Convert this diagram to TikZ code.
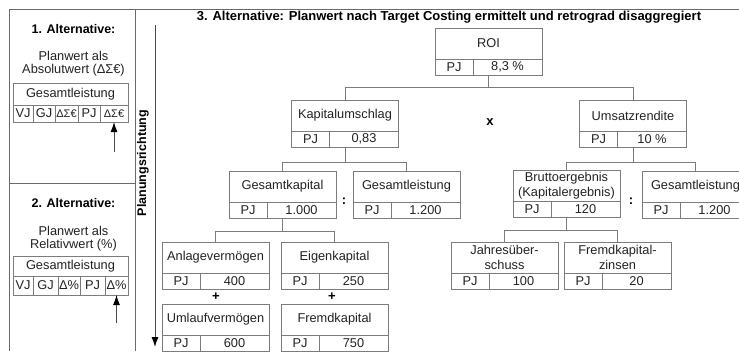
\documentclass[tikz,border=0pt]{standalone}
\usepackage{fontspec}
\setmainfont{Liberation Sans}
\usetikzlibrary{positioning,arrows.meta}
\definecolor{boxgray}{HTML}{7C7C7C}
\definecolor{framegray}{HTML}{6A6A6A}
\definecolor{inkgray}{HTML}{222222}

\begin{document}
\begin{tikzpicture}[x=1pt,y=-1pt,font=\fontsize{12.8}{15.5}\selectfont,text=inkgray]
    \tikzstyle{head}=[draw=boxgray,line width=1pt,rectangle,minimum width=107pt,minimum height=31pt,inner sep=1pt,outer sep=0pt,align=center]
    \tikzstyle{pjcell}=[draw=boxgray,line width=1pt,rectangle,minimum width=38pt,minimum height=16pt,inner sep=0pt,outer sep=0pt]
    \tikzstyle{valcell}=[pjcell,minimum width=69pt]
    \tikzstyle{conn}=[draw=boxgray,line width=1pt]
    \tikzstyle{op}=[font=\fontsize{13}{15}\selectfont\bfseries,text=black]
    \tikzstyle{alttitle}=[font=\fontsize{12.5}{15}\selectfont\bfseries,text=black]
    \tikzstyle{lhead}=[draw=boxgray,line width=1pt,rectangle,minimum width=115pt,inner sep=0pt,outer sep=0pt]
    \tikzstyle{lcell}=[draw=boxgray,line width=1pt,rectangle,inner sep=0pt,outer sep=0pt]
    \tikzstyle{dcell}=[lcell,font=\fontsize{11}{12}\selectfont]
    \tikzstyle{pointer}=[draw=framegray!70!black,line width=1pt,-{Latex[length=10pt,width=7pt,color=black]}]

    \useasboundingbox (0,0) rectangle (739,351);
    \clip (0,0) rectangle (739,351);

    % frame
    \draw[framegray,line width=1pt] (739,9) -- (9,9) -- (9,351);
    \draw[framegray,line width=1pt] (135,9) -- (135,351);
    \draw[framegray,line width=1pt] (9,183) -- (135,183);

    % 1. Alternative
    \node[alttitle] at (73.5,29) (a1title) {1. Alternative:};
    \node[align=center,font=\fontsize{12.8}{13.5}\selectfont] at (73.5,63.5) (a1text) {Planwert als\\Absolutwert (ΔΣ€)};
    \node[lhead,minimum height=22pt,anchor=north west] at (13,83) (a1head) {Gesamtleistung};
    \node[lcell,minimum width=20pt,minimum height=17pt,anchor=north west] at (a1head.south west) (a1vj) {VJ};
    \node[lcell,minimum width=22pt,minimum height=17pt,right=0pt of a1vj] (a1gj) {GJ};
    \node[dcell,minimum width=23pt,minimum height=17pt,right=0pt of a1gj] (a1d1) {ΔΣ€};
    \node[lcell,minimum width=22pt,minimum height=17pt,right=0pt of a1d1] (a1pj) {PJ};
    \node[dcell,minimum width=28pt,minimum height=17pt,right=0pt of a1pj] (a1d2) {ΔΣ€};
    \coordinate (a1tail) at (114,152);
    \draw[pointer] (a1tail) -- (a1d2);

    % 2. Alternative
    \node[alttitle] at (73.5,203) (a2title) {2. Alternative:};
    \node[align=center,font=\fontsize{12.8}{13.5}\selectfont] at (73.5,238.5) (a2text) {Planwert als\\Relativwert (\%)};
    \node[lhead,minimum height=20pt,anchor=north west] at (13,256) (a2head) {Gesamtleistung};
    \node[lcell,minimum width=20pt,minimum height=19pt,anchor=north west] at (a2head.south west) (a2vj) {VJ};
    \node[lcell,minimum width=25pt,minimum height=19pt,right=0pt of a2vj] (a2gj) {GJ};
    \node[lcell,minimum width=22pt,minimum height=19pt,right=0pt of a2gj] (a2d1) {Δ\%};
    \node[lcell,minimum width=25pt,minimum height=19pt,right=0pt of a2d1] (a2pj) {PJ};
    \node[lcell,minimum width=23pt,minimum height=19pt,right=0pt of a2pj] (a2d2) {Δ\%};
    \coordinate (a2tail) at (116.5,323);
    \draw[pointer] (a2tail) -- (a2d2);

    % Planungsrichtung
    \node[alttitle,rotate=90] at (143,163) (plan) {Planungsrichtung};
    \coordinate (planstart) at (155,25);
    \coordinate (planend) at (155,347);
    \draw[pointer] (planstart) -- (planend);

    % 3. Alternative
    \node[alttitle,font=\fontsize{13}{15}\selectfont\bfseries] at (449,17) (a3title) {3. Alternative: Planwert nach Target Costing ermittelt und retrograd disaggregiert};

    \node[head,anchor=north] at (488.5,28) (roi) {ROI};
    \node[pjcell,anchor=north west] at (roi.south west) (roipj) {PJ};
    \node[valcell,right=0pt of roipj] (roival) {8,3 \%};

    \node[head,anchor=north] at (345,100) (kap) {Kapitalumschlag};
    \node[pjcell,anchor=north west] at (kap.south west) (kappj) {PJ};
    \node[valcell,right=0pt of kappj] (kapval) {0,83};

    \node[head,anchor=north] at (633,100) (ums) {Umsatzrendite};
    \node[pjcell,anchor=north west] at (ums.south west) (umspj) {PJ};
    \node[valcell,right=0pt of umspj] (umsval) {10 \%};

    \node[head,anchor=north] at (282.5,171) (gk) {Gesamtkapital};
    \node[pjcell,anchor=north west] at (gk.south west) (gkpj) {PJ};
    \node[valcell,right=0pt of gkpj] (gkval) {1.000};

    \node[head,anchor=north] at (406.5,171) (gla) {Gesamtleistung};
    \node[pjcell,anchor=north west] at (gla.south west) (glapj) {PJ};
    \node[valcell,right=0pt of glapj] (glaval) {1.200};

    \node[head,anchor=north] at (566.5,170) (be) {Bruttoergebnis\\(Kapitalergebnis)};
    \node[pjcell,anchor=north west] at (be.south west) (bepj) {PJ};
    \node[valcell,right=0pt of bepj] (beval) {120};

    \node[head,anchor=north] at (695.5,171) (glb) {Gesamtleistung};
    \node[pjcell,anchor=north west] at (glb.south west) (glbpj) {PJ};
    \node[valcell,right=0pt of glbpj] (glbval) {1.200};

    \node[head,anchor=north] at (215.5,242) (av) {Anlagevermögen};
    \node[pjcell,anchor=north west] at (av.south west) (avpj) {PJ};
    \node[valcell,right=0pt of avpj] (avval) {400};

    \node[head,anchor=north] at (334.5,242) (ek) {Eigenkapital};
    \node[pjcell,anchor=north west] at (ek.south west) (ekpj) {PJ};
    \node[valcell,right=0pt of ekpj] (ekval) {250};

    \node[head,anchor=north] at (215.5,304) (uv) {Umlaufvermögen};
    \node[pjcell,anchor=north west] at (uv.south west) (uvpj) {PJ};
    \node[valcell,right=0pt of uvpj] (uvval) {600};

    \node[head,anchor=north] at (334.5,304) (fk) {Fremdkapital};
    \node[pjcell,anchor=north west] at (fk.south west) (fkpj) {PJ};
    \node[valcell,right=0pt of fkpj] (fkval) {750};

    \node[head,anchor=north] at (504.5,242) (jue) {Jahresüber-\\schuss};
    \node[pjcell,anchor=north west] at (jue.south west) (juepj) {PJ};
    \node[valcell,right=0pt of juepj] (jueval) {100};

    \node[head,anchor=north] at (617.5,242) (fkz) {Fremdkapital-\\zinsen};
    \node[pjcell,anchor=north west] at (fkz.south west) (fkzpj) {PJ};
    \node[valcell,right=0pt of fkzpj] (fkzval) {20};

    % operators
    \node[op] at (490,122) (mul) {x};
    \node[op] at (344,201) (diva) {:};
    \node[op] at (631,201) (divb) {:};
    \node[op] at (216,297) (plusa) {+};
    \node[op] at (332,297) (plusb) {+};

    % connectors
    \draw[conn] (roi.south |- roival.south) -- ++(0,12) -| (kap);
    \draw[conn] (roi.south |- roival.south) -- ++(0,12) -| (ums);
    \draw[conn] (kap.south |- kapval.south) -- ++(0,15) -| (gk);
    \draw[conn] (kap.south |- kapval.south) -- ++(0,15) -| (gla);
    \draw[conn] (ums.south |- umsval.south) -- ++(0,15) -| (be);
    \draw[conn] (ums.south |- umsval.south) -- ++(0,15) -| (glb);
    \draw[conn] (gk.south |- gkval.south) -- ++(0,13) -| (av);
    \draw[conn] (gk.south |- gkval.south) -- ++(0,13) -| (ek);
    \draw[conn] (be.south |- beval.south) -- ++(0,13) -| (jue);
    \draw[conn] (be.south |- beval.south) -- ++(0,13) -| (fkz);
\end{tikzpicture}
\end{document}
